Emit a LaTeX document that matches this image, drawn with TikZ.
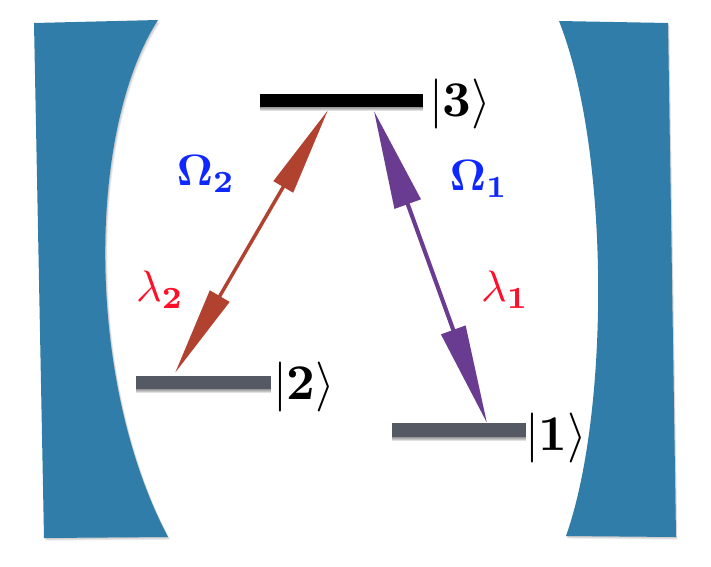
\documentclass[tikz,border=0pt]{standalone}
\usepackage{amsmath}
\usepackage{bm}
\usetikzlibrary{arrows.meta,calc}
\definecolor{mirror}{RGB}{48,125,170}
\definecolor{lvlgray}{RGB}{84,89,99}
\definecolor{redarrow}{RGB}{178,66,48}
\definecolor{purplearrow}{RGB}{105,60,145}
\definecolor{omegablue}{RGB}{15,40,255}
\definecolor{lamred}{RGB}{255,15,40}
\tikzset{
  px/.style={x=1pt,y=-1pt},
  mirrorshape/.style={fill=mirror,draw=none},
  mirrorshade/.style={fill=black,opacity=0.07,draw=none},
  levelbar/.style={rectangle,fill=#1,draw=none,inner sep=0pt,outer sep=0pt},
  levelshade/.style={rectangle,fill=black,opacity=0.12,draw=none,inner sep=0pt},
  kettext/.style={inner sep=0pt,anchor=west,text=black,scale=5,transform shape},
  omegatext/.style={inner sep=0pt,text=omegablue,scale=4.4,transform shape},
  lamtext/.style={inner sep=0pt,text=lamred,scale=4.4,transform shape},
  redbeam/.style={line width=3.5pt,redarrow,
     {Triangle[length=89pt,width=22pt]}-{Triangle[length=89pt,width=22pt]}},
  purplebeam/.style={line width=4pt,purplearrow,
     {Triangle[length=99pt,width=27pt]}-{Triangle[length=99pt,width=25pt]}},
  beamshade/.style={line width=4pt,black,
     {Triangle[length=99pt,width=27pt]}-{Triangle[length=99pt,width=25pt]}},
}
\begin{document}
\begin{tikzpicture}[px]
\useasboundingbox (0,0) rectangle (711,566);
\fill[white] (0,0) rectangle (711,566);
% mirrors: soft shadow, then body
\foreach \d in {1,2,3}{
  \fill[mirrorshade,shift={(\d*0.7,\d*0.9)}] (34,23) -- (158,20) .. controls (87,130) and (85,380) .. (168,537) -- (44,538) -- cycle;
  \fill[mirrorshade,shift={(\d*0.5,\d*0.9)}] (559,21) -- (668,23) -- (676,537) -- (566,536) .. controls (610,411) and (610,150) .. cycle;
}
\fill[mirrorshape] (34,23) -- (158,20) .. controls (87,130) and (85,380) .. (168,537) -- (44,538) -- cycle;
\fill[mirrorshape] (559,21) -- (668,23) -- (676,537) -- (566,536) .. controls (610,411) and (610,150) .. cycle;
% level shadows
\foreach \d in {1,2,3,4}{
  \node[levelshade,minimum width=163pt,minimum height=13pt] at (341.5,100.5+\d) {};
  \node[levelshade,minimum width=135pt,minimum height=13pt] at (203.5,382.5+\d) {};
  \node[levelshade,minimum width=134pt,minimum height=14pt] at (459,430+\d) {};
}
% levels
\node[levelbar=black,minimum width=163pt,minimum height=13pt] (l3) at (341.5,100.5) {};
\node[levelbar=lvlgray,minimum width=135pt,minimum height=13pt] (l2) at (203.5,382.5) {};
\node[levelbar=lvlgray,minimum width=134pt,minimum height=14pt] (l1) at (459,430) {};
% beam ends
\coordinate (r3) at (328,110);
\coordinate (r2) at (175,373);
\coordinate (p3) at (374,111);
\coordinate (p1) at (487,423);
% beams
\foreach \d in {1,2,3}{
  \draw[beamshade,opacity=0.06,shift={(\d*1.2,\d*0.5)}] (p3) -- (p1);
}
\draw[redbeam] (r3) -- (r2);
\draw[purplebeam] (p3) -- (p1);
% labels
\node[kettext] (k3) at (428,104) {$|\bm{3}\rangle$};
\node[kettext] (k2) at (272,387) {$|\bm{2}\rangle$};
\node[kettext] (k1) at (524,438) {$|\bm{1}\rangle$};
\node[omegatext] (o2) at (206,174) {$\bm{\Omega_2}$};
\node[omegatext] (o1) at (479,179) {$\bm{\Omega_1}$};
\node[lamtext] (la2) at (160,290) {$\lambda_{\bm{2}}$};
\node[lamtext] (la1) at (505,290) {$\lambda_{\bm{1}}$};
\end{tikzpicture}
\end{document}
